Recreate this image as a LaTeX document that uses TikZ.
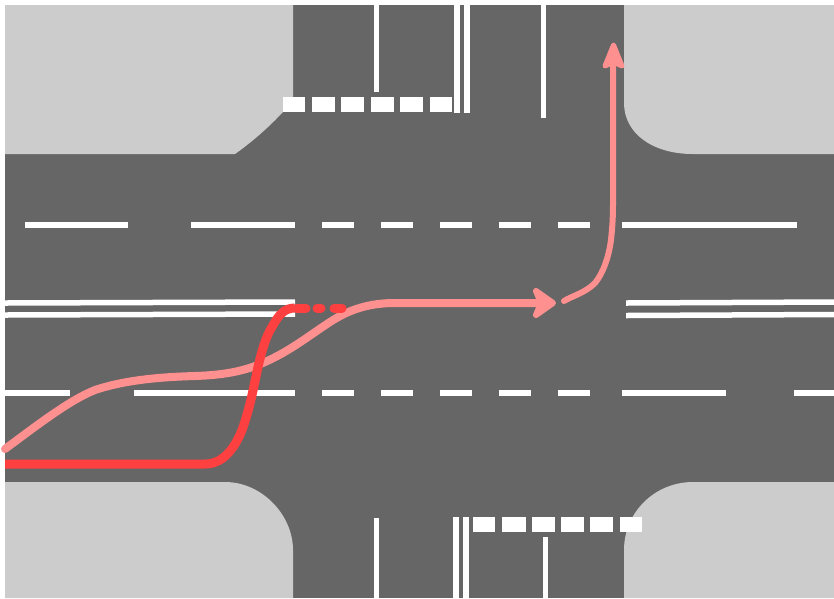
\documentclass[tikz,border=0pt]{standalone}
\definecolor{roadc}{HTML}{666666}
\definecolor{kerbc}{HTML}{CCCCCC}
\definecolor{redc}{HTML}{FF4040}
\definecolor{pinkc}{HTML}{FF9090}
\tikzset{
 mark line/.style={draw=white,line width=5pt},
 mark thin/.style={draw=white,line width=5.5pt},
 zebra/.style={fill=white,draw=none},
 kerb/.style={fill=kerbc,draw=none},
 redpath/.style={draw=redc,line width=9pt,line join=round},
 pinkpath/.style={draw=pinkc,line width=8pt,line join=round,line cap=round},
 pinkthin/.style={draw=pinkc,line width=6pt,line join=round,line cap=round},
}
\begin{document}
\begin{tikzpicture}[x=1pt,y=-1pt]
\useasboundingbox (0,0) rectangle (834,598);
\fill[white] (0,0) rectangle (834,598);
\fill[roadc] (5,5) rectangle (834,598);
% kerbs
\path[kerb] (5,5) -- (293,5) -- (293,97) -- (283,112) .. controls (268,128) and (252,142) .. (235,154) -- (5,154) -- cycle;
\path[kerb] (834,5) -- (624,5) -- (624,103) .. controls (624,133) and (652,154) .. (693,154) -- (834,154) -- cycle;
\path[kerb] (5,598) -- (293,598) -- (293,550) .. controls (293,515) and (262,482) .. (225,482) -- (5,482) -- cycle;
\path[kerb] (834,598) -- (624,598) -- (624,550) .. controls (624,512) and (655,482) .. (693,482) -- (834,482) -- cycle;
% centre dashes
\foreach \a/\b in {25/128,191/295,322/354,381/413,440/472,499/531,558/590,622/797}
  \draw[mark thin] (\a,225) -- (\b,225);
\foreach \a/\b in {5/70,134/295,322/354,381/413,440/472,499/531,558/590,622/726,794/834}
  \draw[mark thin] (\a,393) -- (\b,393);
% double lines
\draw[mark line,line width=5.5pt] (5,303) -- (295,302);
\draw[mark line,line width=5.5pt] (5,315) -- (295,314);
\draw[mark line,line width=5.5pt] (626,303) -- (834,302);
\draw[mark line,line width=5.5pt] (626,315.5) -- (834,314.5);
% vertical lines
\draw[mark line] (376,5) -- (376,92);
\draw[mark line,line width=5.5pt] (457,5) -- (457,113);
\draw[mark line,line width=5.5pt] (467,5) -- (467,113);
\draw[mark line] (543,5) -- (543,118);
\draw[mark line] (376,518) -- (376,598);
\draw[mark line,line width=5.5pt] (456,517) -- (456,598);
\draw[mark line,line width=5.5pt] (466,517) -- (466,598);
\draw[mark line] (545,537) -- (545,598);
% crossings
\foreach \a/\b in {283/305,312/335,341/364,371/394,400/423,430/452}
  \path[zebra] (\a,97) rectangle (\b,112);
\foreach \a/\b in {473/495,502/526,532/555,561/584,590/613,620/642}
  \path[zebra] (\a,517) rectangle (\b,532);
% pink path
\draw[pinkpath] (5,449) .. controls (40,423) and (70,400) .. (95,390)
  .. controls (125,380) and (160,377) .. (195,376)
  .. controls (225,375) and (245,371) .. (265,362)
  .. controls (290,351) and (310,335) .. (330,322)
  .. controls (350,309) and (370,303) .. (395,303) -- (550,303);
\fill[pinkc,draw=pinkc,line width=6pt,line join=round] (536,291) -- (553,303) -- (536,315) -- (541,303) -- cycle;
% red path
\draw[redpath] (5,464) -- (205,464) .. controls (222,464) and (234,450) .. (242,430)
  .. controls (250,408) and (253,390) .. (258,367)
  .. controls (262,350) and (266,336) .. (272,327)
  .. controls (279,314) and (285,308) .. (295,308);
\draw[redpath,line cap=round] (297,308) -- (306,308);
\draw[redpath,line cap=round] (317,308) -- (321,308);
\draw[redpath,line cap=round] (334,308) -- (342,308);
% pink right turn
\draw[pinkthin] (564,301) .. controls (572,296) and (585,293) .. (595,283)
  .. controls (604,272) and (609,255) .. (611,240) .. controls (612,230) and (613,220) .. (613,205) -- (613,55);
\fill[pinkc,draw=pinkc,line width=5pt,line join=round] (605,66) -- (613.5,45) -- (622,66) -- (613.5,62) -- cycle;
\end{tikzpicture}
\end{document}
